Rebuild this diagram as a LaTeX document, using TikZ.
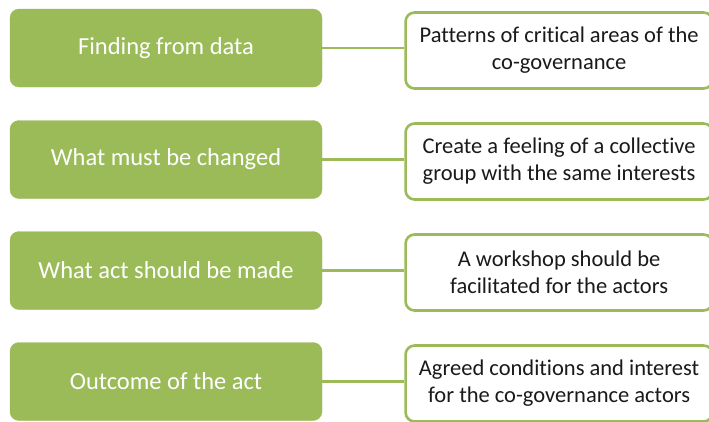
\documentclass[tikz,border=0pt]{standalone}
\usepackage{fontspec}
\setmainfont{Carlito}[Ligatures={NoCommon}]
\definecolor{olive}{HTML}{9BBB59}
\definecolor{ink}{HTML}{1A1A1A}
\begin{document}
\begin{tikzpicture}[x=1pt,y=-1pt,
  stage/.style={rectangle, rounded corners=9pt, fill=olive, draw=olive,
    minimum width=312pt, minimum height=78pt, text=white,
    font=\fontsize{24.5}{28}\selectfont, inner sep=0pt},
  detail/.style={rectangle, rounded corners=9pt, fill=white, draw=olive,
    line width=2.6pt, minimum width=307pt, minimum height=76pt, text=ink,
    align=center, font=\fontsize{22.5}{27}\selectfont, inner sep=0pt},
  link/.style={draw=olive, line width=2.6pt}]
\useasboundingbox (0,0) rectangle (709,421);
\clip (0,0) rectangle (709,421);
\foreach \i/\y/\yr/\a/\b in {
  1/48/50.5/{Finding from data}/{Patterns of critical areas of the\\co-governance},
  2/159.5/161.5/{What must be changed}/{Create a feeling of a collective\\group with the same interests},
  3/270.5/272.5/{What act should be made}/{A workshop should be\\facilitated for the actors},
  4/381.5/383.5/{Outcome of the act}/{Agreed conditions and interest\\for the co-governance actors}}{
  \node[stage] (s\i) at (166,\y) {\a};
  \node[detail, anchor=west] (d\i) at (404.3,\yr) {\b};
  \draw[link] (s\i.east) -- (d\i.west |- s\i.east);
}
\end{tikzpicture}
\end{document}
